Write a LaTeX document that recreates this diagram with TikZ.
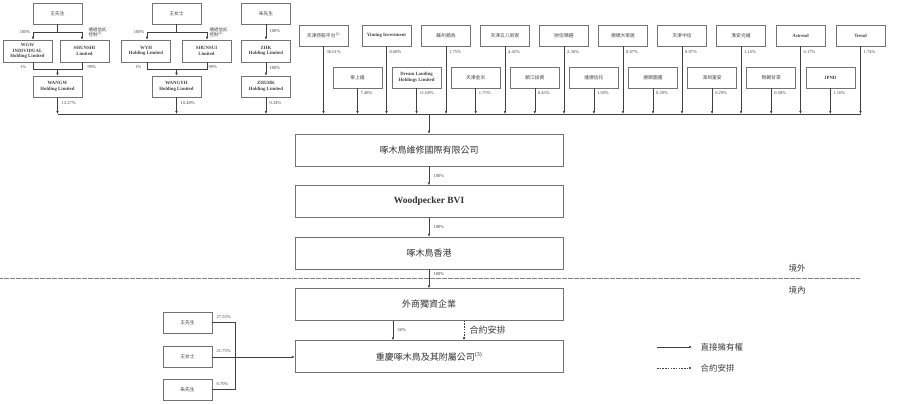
\documentclass[tikz,border=0pt]{standalone}
\usepackage{fontspec}
\setmainfont{Liberation Serif}
\newfontfamily\cjk{Noto Sans CJK TC}
\usetikzlibrary{arrows.meta}
\begin{document}
\begin{tikzpicture}[x=1pt,y=-1pt,
 sbox/.style={draw=black!55, line width=0.5pt, minimum width=49pt, minimum height=21pt, inner sep=1pt, align=center, text=black!75, font=\fontsize{4.8}{5.4}\selectfont},
 bbox/.style={draw=black!55, line width=0.5pt, minimum width=268pt, minimum height=32pt, inner sep=1pt, text=black!80, font=\fontsize{9}{10}\selectfont},
 pct/.style={font=\fontsize{4.5}{5}\selectfont, text=black!75, inner sep=0.5pt, align=left},
 ln/.style={draw=black!75, line width=0.45pt},
 arr/.style={ln, -{Latex[length=3pt,width=2.4pt]}},
 lbl/.style={font=\fontsize{8.5}{10}\selectfont\cjk, text=black!75, inner sep=0.5pt},
]
\useasboundingbox (0,0) rectangle (900,404);

% ---------- bus ----------
\coordinate (busL) at (57.5,114);
\coordinate (busR) at (860.5,114);
\draw[ln] (busL) -- (busR);

% ---------- cluster 1 ----------
\node[sbox] (wxs) at (57.5,13.5) {\cjk 王先生};
\node[sbox, minimum height=22pt] (wgw) at (27.5,51) {\bfseries WGW\\\bfseries INDIVIDUAL\\\bfseries Holding Limited};
\node[sbox, minimum height=22pt] (shunshi) at (84.5,51) {\bfseries SHUNSHI\\\bfseries Limited};
\node[sbox] (wangw) at (57.5,86.5) {\bfseries WANGW\\\bfseries Holding Limited};
\coordinate (f1L) at (33,32); \coordinate (f1R) at (82,32);
\coordinate (j1L) at (33,69); \coordinate (j1R) at (82,69);
\draw[ln] (wxs.south) -- (wxs.south |- f1L);
\draw[ln] (f1L) -- (f1R);
\draw[arr] (f1L) -- (f1L |- wgw.north);
\draw[arr] (f1R) -- (f1R |- shunshi.north);
\draw[ln] (j1L |- wgw.south) -- (j1L) -- (j1R) -- (j1R |- shunshi.south);
\draw[arr] (wangw.north |- j1L) -- (wangw.north);
\draw[arr] (wangw.south) -- (wangw.south |- busL);
\node[pct, anchor=east] (p1a) at (31,32) {100\%};
\node[pct, anchor=west] (p1b) at (88,32) {\cjk 通過信託\\\cjk 控制\textsuperscript{(1)}};
\node[pct, anchor=east] (p1c) at (27,67) {1\%};
\node[pct, anchor=west] (p1d) at (87,67) {99\%};
\node[pct, anchor=west] (p1e) at (61,103) {13.27\%};

% ---------- cluster 2 ----------
\node[sbox] (wns) at (176.5,13.5) {\cjk 王女士};
\node[sbox, minimum height=22pt] (wyh) at (146,51) {\bfseries WYH\\\bfseries Holding Limited};
\node[sbox, minimum height=22pt] (shunsui) at (206.5,51) {\bfseries SHUNSUI\\\bfseries Limited};
\node[sbox] (wangyh) at (176.5,86.5) {\bfseries WANGYH\\\bfseries Holding Limited};
\coordinate (f2L) at (147,32); \coordinate (f2R) at (207,32);
\coordinate (j2L) at (147,69); \coordinate (j2R) at (207,69);
\draw[ln] (wns.south) -- (wns.south |- f2L);
\draw[ln] (f2L) -- (f2R);
\draw[arr] (f2L) -- (f2L |- wyh.north);
\draw[arr] (f2R) -- (f2R |- shunsui.north);
\draw[ln] (j2L |- wyh.south) -- (j2L) -- (j2R) -- (j2R |- shunsui.south);
\draw[arr] (wangyh.north |- j2L) -- (wangyh.north);
\draw[arr] (wangyh.south) -- (wangyh.south |- busL);
\node[pct, anchor=east] (p2a) at (145,32) {100\%};
\node[pct, anchor=west] (p2b) at (209,32) {\cjk 通過信託\\\cjk 控制\textsuperscript{(2)}};
\node[pct, anchor=east] (p2c) at (142,67) {1\%};
\node[pct, anchor=west] (p2d) at (208,67) {99\%};
\node[pct, anchor=west] (p2e) at (180,103) {10.48\%};

% ---------- cluster 3 ----------
\node[sbox] (zxs) at (266,13.5) {\cjk 朱先生};
\node[sbox, minimum height=22pt] (zhk) at (266,51) {\bfseries ZHK\\\bfseries Holding Limited};
\node[sbox] (zhuhk) at (266,86.5) {\bfseries ZHUHK\\\bfseries Holding Limited};
\draw[arr] (zxs.south) -- (zhk.north);
\draw[arr] (zhk.south) -- (zhuhk.north);
\draw[arr] (zhuhk.south) -- (zhuhk.south |- busL);
\node[pct, anchor=west] (p3a) at (269,31) {100\%};
\node[pct, anchor=west] (p3b) at (269,68) {100\%};
\node[pct, anchor=west] (p3c) at (269,103) {0.34\%};

% ---------- investors row 1 ----------
\foreach \n/\x/\t/\p in {
 r1a/323.5/{\cjk 天津持股平台\textsuperscript{(2)}}/30.61\%,
 r1b/386.5/{\bfseries Yiming Investment}/0.68\%,
 r1c/446/{\cjk 蘇州順為}/1.75\%,
 r1d/505/{\cjk 天津五八到家}/4.45\%,
 r1e/564/{\cjk 財信精選}/2.36\%,
 r1f/623/{\cjk 德順大家居}/0.87\%,
 r1g/682/{\cjk 天津中信}/0.87\%,
 r1h/741/{\cjk 淮安光縉}/1.16\%,
 r1i/800.5/{\bfseries Astrend}/6.17\%,
 r1j/860.5/{\bfseries Trend}/1.74\%} {
  \node[sbox] (\n) at (\x,35.5) {\t};
  \draw[arr] (\n.south) -- (\n.south |- busL);
  \node[pct, anchor=west] (\n p) at ([xshift=2.5pt]\n.south |- 0,52) {\p};
}
% ---------- investors row 2 ----------
\foreach \n/\x/\t/\p in {
 r2a/357.5/{\cjk 寧上遠}/7.48\%,
 r2b/416.6/{\bfseries Dream Landing\\\bfseries Holdings Limited}/11.68\%,
 r2c/475.7/{\cjk 天津金米}/1.75\%,
 r2d/534.8/{\cjk 順江投資}/0.45\%,
 r2e/593.9/{\cjk 達德信托}/1.58\%,
 r2f/653/{\cjk 德順圖書}/0.29\%,
 r2g/712.1/{\cjk 深圳富安}/0.29\%,
 r2h/771.2/{\cjk 無錫甘棠}/0.58\%,
 r2i/830.3/{\bfseries JPND}/1.16\%} {
  \node[sbox] (\n) at (\x,77.5) {\t};
  \draw[arr] (\n.south) -- (\n.south |- busL);
  \node[pct, anchor=west] (\n p) at ([xshift=2.5pt]\n.south |- 0,93) {\p};
}

% ---------- main chain ----------
\node[bbox] (b1) at (429,150) {\cjk 啄木鳥維修國際有限公司};
\node[bbox, font=\fontsize{9.5}{10}\selectfont\bfseries] (b2) at (429,201.5) {Woodpecker BVI};
\node[bbox] (b3) at (429,253) {\cjk 啄木鳥香港};
\node[bbox] (b4) at (429,304.5) {\cjk 外商獨資企業};
\node[bbox] (b5) at (429,356.5) {\cjk 重慶啄木鳥及其附屬公司\textsuperscript{\rmfamily(3)}};
\draw[arr] (b1.north |- busL) -- (b1.north);
\draw[arr] (b1.south) -- (b2.north);
\draw[arr] (b2.south) -- (b3.north);
\draw[arr] (b3.south) -- (b4.north);
\node[pct, anchor=west] (m1) at (433,176) {100\%};
\node[pct, anchor=west] (m2) at (433,227) {100\%};
\node[pct, anchor=west] (m3) at (433,274) {100\%};

\coordinate (c50) at (393,0);
\coordinate (cva) at (464,0);
\draw[arr] (b4.south -| c50) -- (b5.north -| c50);
\draw[arr, dash pattern=on 1.5pt off 1.2pt] (b4.south -| cva) -- (b5.north -| cva);
\node[pct, anchor=west] (m4) at (397,330) {50\%};
\node[lbl, anchor=west, font=\fontsize{9}{10}\selectfont\cjk] (m5) at (469,330) {合約安排};

% ---------- onshore/offshore ----------
\coordinate (dl) at (0,278);
\coordinate (dr) at (860,278);
\draw[black!50, line width=0.5pt, dash pattern=on 0.6pt off 0.6pt] (dl) -- (dr);
\node[lbl] (jw) at (797,268) {境外};
\node[lbl] (jn) at (797,290) {境內};

% ---------- individuals ----------
\node[sbox] (q1) at (187.5,322.5) {\cjk 王先生};
\node[sbox] (q2) at (187.5,357) {\cjk 王女士};
\node[sbox] (q3) at (187.5,389.5) {\cjk 朱先生};
\coordinate (jx) at (235,0);
\draw[ln] (q1.east) -- (q1.east -| jx) -- (q3.east -| jx) -- (q3.east);
\draw[arr] (q2.east) -- (q2.east -| b5.west);
\node[pct, anchor=west] (q1p) at (216,317) {27.55\%};
\node[pct, anchor=west] (q2p) at (216,351) {21.75\%};
\node[pct, anchor=west] (q3p) at (216,384) {0.70\%};

% ---------- legend ----------
\coordinate (lg1a) at (657,347); \coordinate (lg1b) at (692,347);
\coordinate (lg2a) at (657,368); \coordinate (lg2b) at (692,368);
\draw[arr] (lg1a) -- (lg1b);
\draw[arr, dash pattern=on 1.5pt off 1.2pt] (lg2a) -- (lg2b);
\node[lbl, anchor=west] (lt1) at (700,347) {直接擁有權};
\node[lbl, anchor=west] (lt2) at (700,368) {合約安排};
\end{tikzpicture}
\end{document}
